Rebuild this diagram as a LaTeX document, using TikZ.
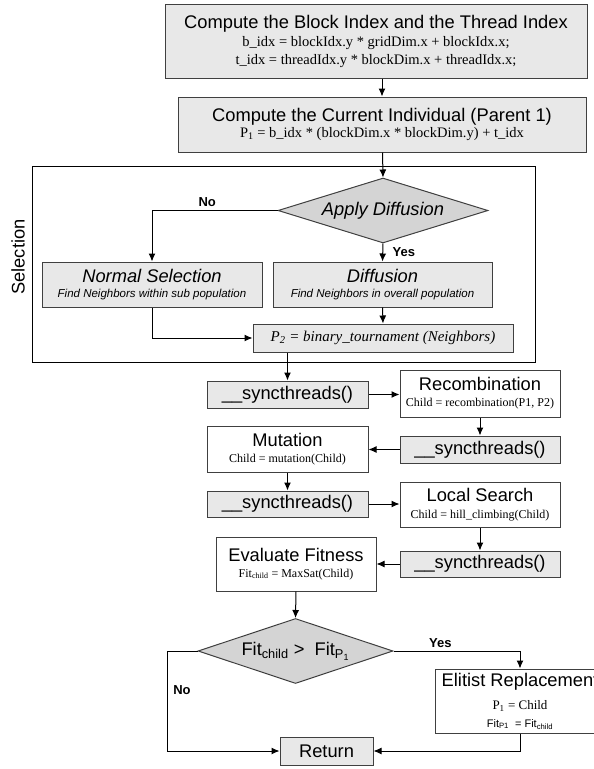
\documentclass[tikz,border=0pt]{standalone}
\usepackage{fontspec}
\setmainfont{Liberation Serif}
\setsansfont{Liberation Sans}
\usepackage{tikz}
\usetikzlibrary{calc,shapes,arrows.meta}

\newcommand{\ttl}{\sffamily\fontsize{18.3}{20}\selectfont}
\newcommand{\frm}{\rmfamily\fontsize{14.5}{18}\selectfont}
\newcommand{\sml}{\rmfamily\fontsize{12}{14}\selectfont}
\newcommand{\note}{\sffamily\itshape\fontsize{11.5}{13}\selectfont}

\begin{document}
\begin{tikzpicture}[x=1pt,y=-1pt,line width=1pt,
    box/.style={draw=black!75,fill=black!9,inner sep=0pt,align=center,font=\ttl},
    wbox/.style={box,fill=white},
    sync/.style={box,minimum width=161pt,minimum height=27pt},
    cond/.style={diamond,draw=black!75,fill=black!17,inner sep=0pt,font=\ttl},
    arr/.style={-{Latex[length=8pt,width=7pt]}},
    lbl/.style={font=\sffamily\bfseries\fontsize{13}{15}\selectfont}]
\useasboundingbox (0,0) rectangle (594,769);
\clip (0,0) rectangle (594,769);

\node[box,minimum width=422pt,minimum height=74pt] (idx) at (376,41)
    {Compute the Block Index and the Thread Index\\[-2pt]
     {\frm b\_idx = blockIdx.y * gridDim.x + blockIdx.x;}\\[-2pt]
     {\frm t\_idx = threadIdx.y * blockDim.x + threadIdx.x;}};
\node[box,minimum width=408pt,minimum height=55pt] (indiv) at (382,124.5)
    {Compute the Current Individual (Parent 1)\\[-4pt]
     {\frm P\textsubscript{1} = b\_idx * (blockDim.x * blockDim.y) + t\_idx}};

\node[draw,minimum width=503pt,minimum height=196pt] (sel) at (283.5,264) {};
\node[rotate=90,font=\ttl] (sellbl) at (18,257) {Selection};
\node[cond,aspect=3.2,minimum width=210pt,minimum height=65pt] (apply) at (383,210.5) {\textit{Apply Diffusion}};
\node[box,minimum width=220pt,minimum height=45pt] (normal) at (152,284.5)
    {\textit{Normal Selection}\\[-5.5pt] {\note Find Neighbors within sub population}};
\node[box,minimum width=219pt,minimum height=45pt] (diffu) at (382.5,284.5)
    {\textit{Diffusion}\\[-5.5pt] {\note Find Neighbors in overall population}};
\node[box,minimum width=260pt,minimum height=28pt] (tourn) at (383,338)
    {\rmfamily\itshape\fontsize{15}{18}\selectfont P\textsubscript{2} = binary\_tournament (Neighbors)};

\node[sync] (sync1) at (287.5,394.5) {\_\_syncthreads()};
\node[wbox,minimum width=160pt,minimum height=47pt] (recomb) at (480,393.5)
    {Recombination\\[-4pt] {\sml Child = recombination(P1, P2)}};
\node[sync,minimum width=160pt] (sync2) at (480,449.5) {\_\_syncthreads()};
\node[wbox,minimum width=161pt,minimum height=46pt] (mut) at (287.5,449)
    {Mutation\\[-4pt] {\sml Child = mutation(Child)}};
\node[sync,minimum height=26pt] (sync3) at (287.5,504) {\_\_syncthreads()};
\node[wbox,minimum width=160pt,minimum height=45pt] (local) at (480,504.5)
    {Local Search\\[-3.5pt] {\sml Child = hill\_climbing(Child)}};
\node[sync,minimum width=160pt,minimum height=26pt] (sync4) at (480,564) {\_\_syncthreads()};
\node[wbox,minimum width=160pt,minimum height=54pt] (eval) at (296,564)
    {Evaluate Fitness\\[-4.5pt] {\sml Fit\textsubscript{child} = MaxSat(Child)}};

\node[cond,aspect=3,minimum width=195pt,minimum height=65pt] (fit) at (295.5,651)
    {Fit\textsubscript{child} >\ \ Fit\textsubscript{P\textsubscript{1}}};
\node[wbox,minimum width=170pt,minimum height=64pt] (elit) at (520,701)
    {Elitist Replacement\\[3pt]
     {\rmfamily\fontsize{13}{15}\selectfont P\textsubscript{1} = Child}\\[-2pt]
     {\sffamily\fontsize{11}{13}\selectfont Fit\textsubscript{P1}\ \ = Fit\textsubscript{child}}};
\node[box,minimum width=93pt,minimum height=28pt] (ret) at (326.5,751) {Return};

\draw[arr] (idx.south -| indiv) -- (indiv.north);
\draw[arr] (indiv) -- (apply.north);
\draw[arr] (apply.west) -| node[lbl,above,pos=0.28] {No} (normal.north);
\draw[arr] (apply.south) -- node[lbl,right=6pt] {Yes} (diffu.north);
\draw[arr] (diffu.south) -- (tourn.north);
\draw[arr] (normal.south) |- (tourn.west);
\draw[arr] (tourn.south -| sync1) -- (sync1.north);
\draw[arr] (sync1.east) -- (sync1.east -| recomb.west);
\draw[arr] (recomb.south) -- (sync2.north);
\draw[arr] (sync2.west) -- (sync2.west -| mut.east);
\draw[arr] (mut.south) -- (sync3.north);
\draw[arr] (sync3.east) -- (sync3.east -| local.west);
\draw[arr] (local.south) -- (sync4.north);
\draw[arr] (sync4.west) -- (eval.east);
\draw[arr] (eval.south) -- (fit.north);
\draw[arr] (fit.east) -| node[lbl,above,pos=0.185] {Yes} (elit.north);
\draw[arr] (fit.west) -- ++(-30,0) |- node[lbl,right=2pt,pos=0.195] {No} (ret.west);
\draw[arr] (elit.south) |- (ret.east);
\end{tikzpicture}
\end{document}
